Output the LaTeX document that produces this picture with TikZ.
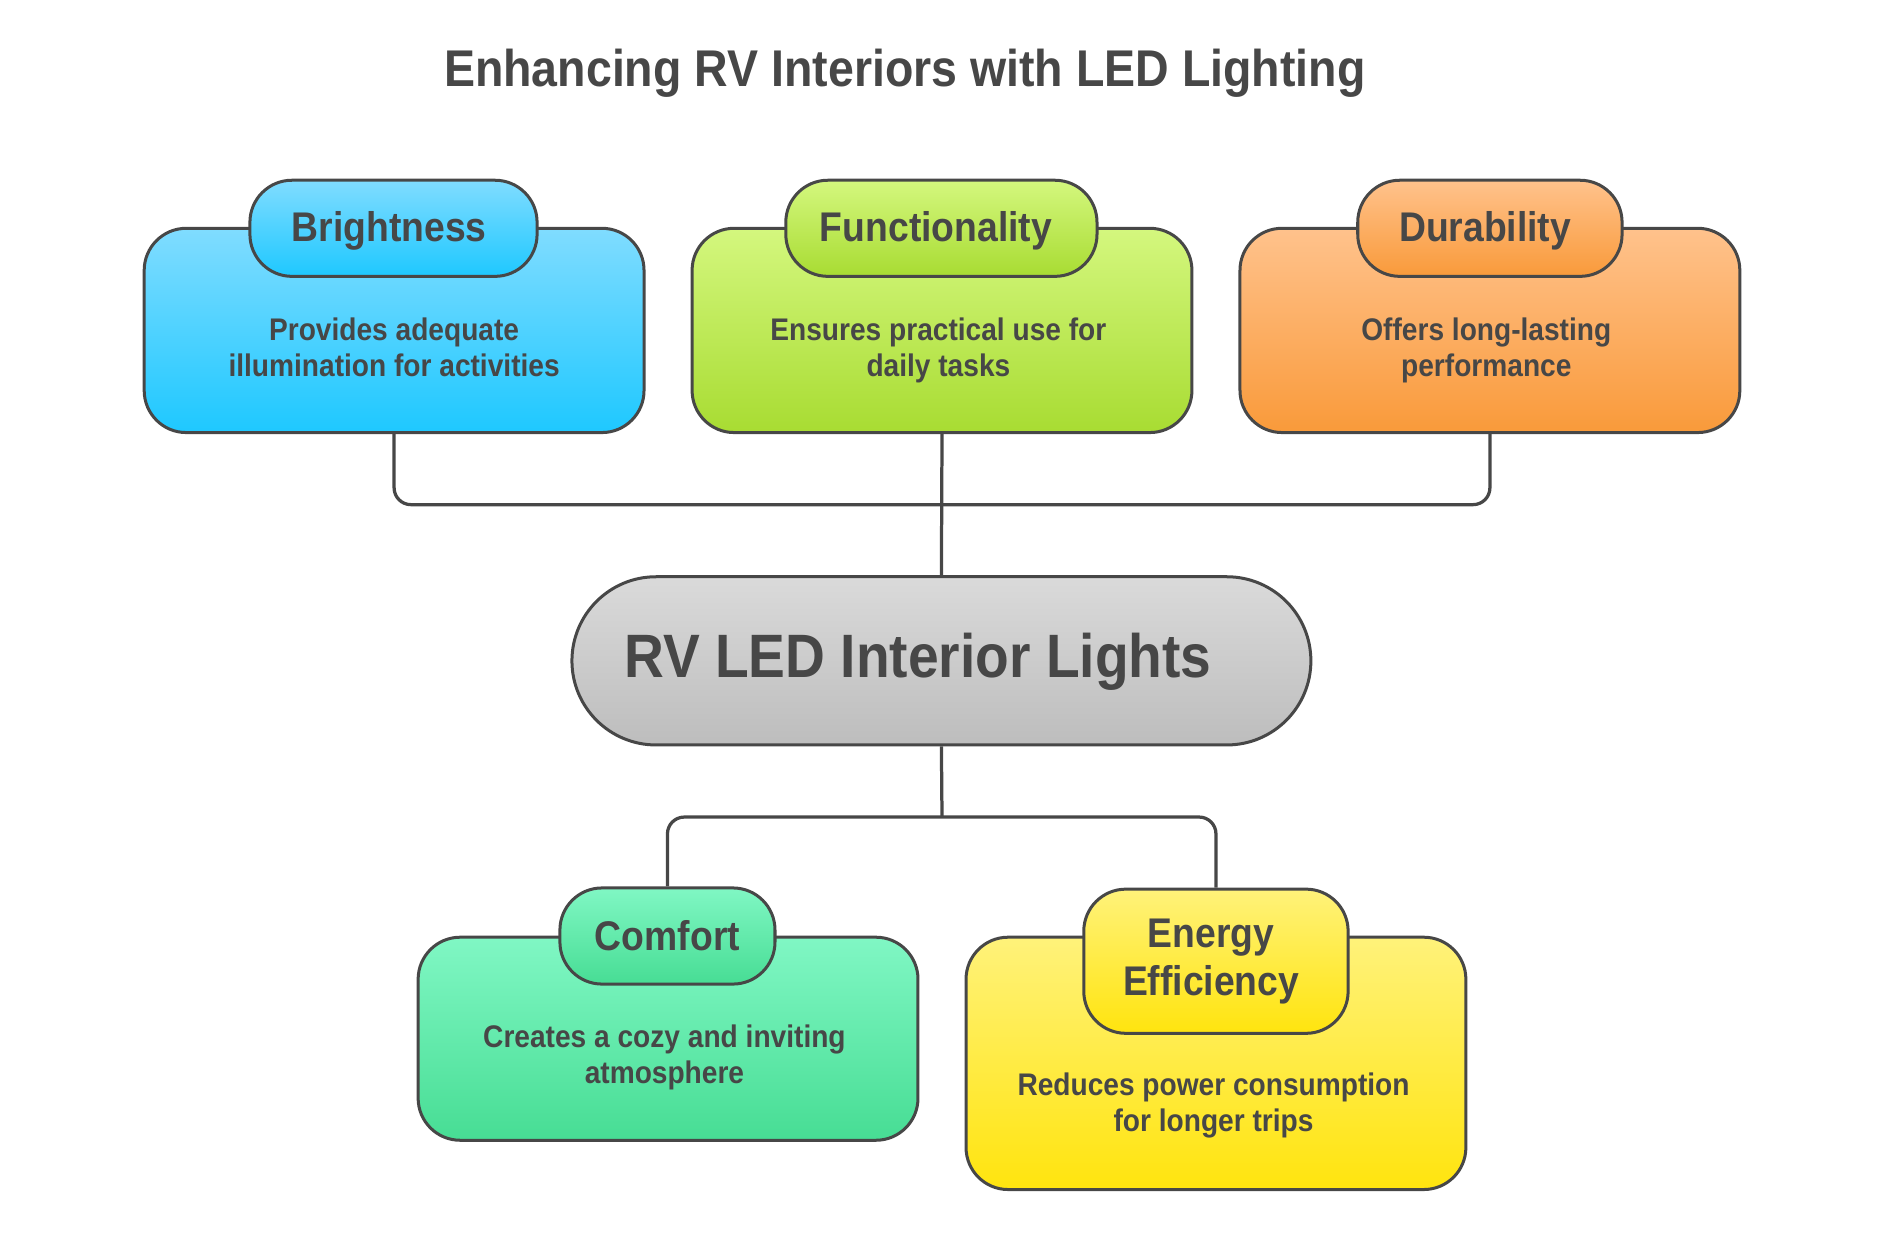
\documentclass[tikz,border=0pt]{standalone}
\usepackage{fontspec}
\setmainfont[FakeStretch=0.9]{Liberation Sans}
\usetikzlibrary{positioning}

\definecolor{ink}{HTML}{474747}
\definecolor{briT}{HTML}{80DCFF}\definecolor{briB}{HTML}{1EC8FF}
\definecolor{funT}{HTML}{D4F77E}\definecolor{funB}{HTML}{A8DC32}
\definecolor{durT}{HTML}{FFC28C}\definecolor{durB}{HTML}{F99A3A}
\definecolor{corT}{HTML}{DADADA}\definecolor{corB}{HTML}{BDBDBD}
\definecolor{comT}{HTML}{80F7C4}\definecolor{comB}{HTML}{47DD94}
\definecolor{eneT}{HTML}{FFF27A}\definecolor{eneB}{HTML}{FFE40E}

\tikzset{
  cardbox/.style={draw=ink,line width=2.5pt,rounded corners=35pt,minimum width=416pt,inner sep=0pt},
  tabbox/.style={draw=ink,line width=2.5pt,rounded corners=35pt,inner sep=0pt,text=ink,align=center,
    font=\bfseries\fontsize{34.5}{40}\selectfont},
  tabtext/.style={text=ink,align=center,font=\bfseries\fontsize{34.5}{40}\selectfont},
  bodytext/.style={text=ink,align=center,font=\bfseries\fontsize{26}{30}\selectfont},
  link/.style={draw=ink,line width=2.7pt,rounded corners=14pt}
}

\begin{document}
\begin{tikzpicture}[x=1pt,y=-1pt]
    \useasboundingbox (0,0) rectangle (1568,1026);

    \node[text=ink,font=\bfseries\fontsize{43}{48}\selectfont] (title) at (753,61) {Enhancing RV Interiors with LED Lighting};

    % top row
    \node[cardbox,minimum height=170pt,top color=briT,bottom color=briB] (bri) at (328,275) {};
    \node[tabbox,minimum width=239pt,minimum height=80pt,top color=briT,bottom color=briB] (briTab) at (327.5,190) {};
    \node[tabtext] (briHead) at (324,192) {Brightness};
    \node[bodytext] (briTxt) at (328,289) {Provides adequate\\illumination for activities};

    \node[cardbox,minimum height=170pt,top color=funT,bottom color=funB] (fun) at (784,275) {};
    \node[tabbox,minimum width=259pt,minimum height=80pt,top color=funT,bottom color=funB] (funTab) at (783.5,190) {};
    \node[tabtext] (funHead) at (779,192) {Functionality};
    \node[bodytext] (funTxt) at (781,292) {Ensures practical use for\\daily tasks};

    \node[cardbox,minimum height=170pt,top color=durT,bottom color=durB] (dur) at (1240,275) {};
    \node[tabbox,minimum width=220pt,minimum height=80pt,top color=durT,bottom color=durB] (durTab) at (1240,190) {};
    \node[tabtext] (durHead) at (1236,192) {Durability};
    \node[bodytext] (durTxt) at (1237,292) {Offers long-lasting\\performance};

    % core
    \node[draw=ink,line width=2.5pt,rounded corners=70pt,minimum width=615pt,minimum height=140pt,
      top color=corT,bottom color=corB] (core) at (783.5,550) {};
    \node[text=ink,font=\bfseries\fontsize{51}{60}\selectfont] (coreTxt) at (764,551) {RV LED Interior Lights};

    % bottom row
    \node[cardbox,minimum height=169pt,top color=comT,bottom color=comB] (com) at (556,864.5) {};
    \node[tabbox,minimum width=179pt,minimum height=80pt,top color=comT,bottom color=comB] (comTab) at (555.5,779) {Comfort};
    \node[bodytext] (comTxt) at (553,880) {Creates a cozy and inviting\\atmosphere};

    \node[cardbox,minimum height=210pt,top color=eneT,bottom color=eneB] (ene) at (1012,885) {};
    \node[tabbox,minimum width=220pt,minimum height=120pt,top color=eneT,bottom color=eneB] (eneTab) at (1012,800) {};
    \node[tabtext] (eneHead) at (1008,800) {Energy\\Efficiency};
    \node[bodytext] (eneTxt) at (1010,920) {Reduces power consumption\\for longer trips};

    % connectors
    \coordinate (busTop) at (784,420);
    \coordinate (busBot) at (784,680);
    \draw[link] (bri.south) |- (busTop) -| (dur.south);
    \draw[link] (fun.south) -- (core.north);
    \draw[link] (core.south) -- (busBot);
    \draw[link] (comTab.north) |- (busBot) -| (eneTab.north);
\end{tikzpicture}
\end{document}
